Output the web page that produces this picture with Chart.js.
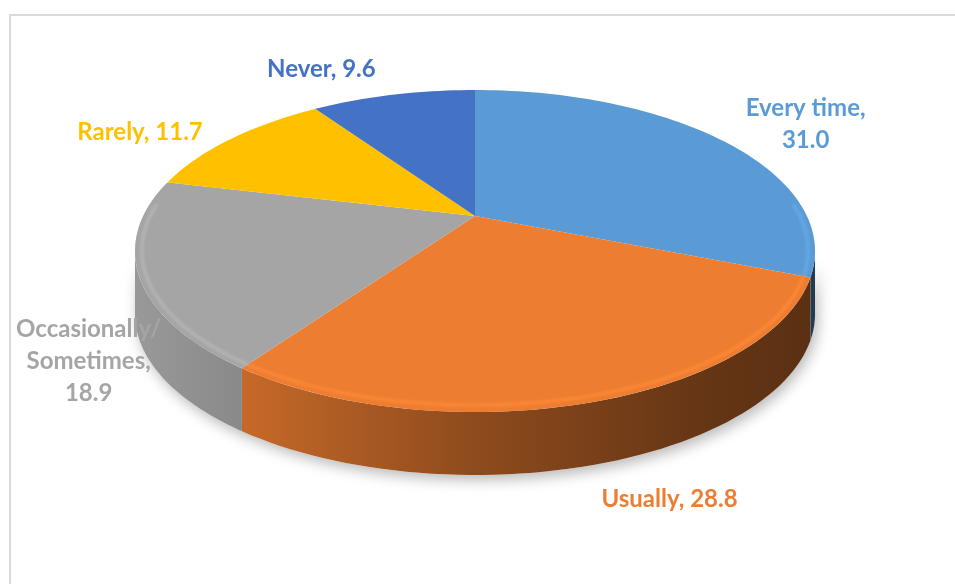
<!DOCTYPE html>
<html>
<head>
<meta charset="utf-8">
<script src="https://cdn.jsdelivr.net/npm/chart.js@4.4.1/dist/chart.umd.min.js"></script>
<style>
  html, body { margin: 0; padding: 0; background: #fff; }
  #wrap { width: 955px; height: 584px; }
</style>
</head>
<body>
<div id="wrap"><canvas id="pieChart"></canvas></div>
<script>
// categories go clockwise from 12 o'clock
const labels = ['Every time', 'Usually', 'Occasionally/\nSometimes', 'Rarely', 'Never'];
const values = [31.0, 28.8, 18.9, 11.7, 9.6];
const colors = ['#5B9BD5', '#ED7D31', '#A5A5A5', '#FFC000', '#4472C4'];
const valueOnNewLine = [true, false, true, false, false];

// label offsets from the projected slice middle (best-fit placement)
const labelOffsets = [[86, -15], [75, 98], [-50, 87], [-91, -7], [-72, -25]];

// perspective view of the disc: apex at (cx, cy), rim is a projected circle
const view = { cx: 475, cy: 216, A: 331.9, B: 153.4, E: -0.2174, depth: 63 };

function rimPoint(t, dy) {
  const w = 1 + view.E * Math.sin(t);
  return [view.cx + view.A * Math.cos(t) / w, view.cy + view.B * Math.sin(t) / w + (dy || 0)];
}

function shade(hex, f) {
  const n = parseInt(hex.slice(1), 16);
  const ch = v => Math.min(255, Math.round(v * f));
  return 'rgb(' + ch((n >> 16) & 255) + ',' + ch((n >> 8) & 255) + ',' + ch(n & 255) + ')';
}

function wallPath(ctx, a, b) {
  const steps = 60;
  ctx.beginPath();
  for (let i = 0; i <= steps; i++) {
    const p = rimPoint(a + (b - a) * i / steps);
    if (i === 0) ctx.moveTo(p[0], p[1]); else ctx.lineTo(p[0], p[1]);
  }
  for (let i = steps; i >= 0; i--) {
    const p = rimPoint(a + (b - a) * i / steps, view.depth);
    ctx.lineTo(p[0], p[1]);
  }
  ctx.closePath();
}

// the slices only depend on direction, so an oversized flat pie clipped to the rim is enough
function drawFaces(chart) {
  const ctx = chart.ctx;
  const arcs = chart.getDatasetMeta(0).data;
  const R = arcs[0].outerRadius, k = 1.32;
  ctx.save();
  ctx.beginPath();
  for (let i = 0; i <= 240; i++) {
    const p = rimPoint(2 * Math.PI * i / 240);
    if (i === 0) ctx.moveTo(p[0], p[1]); else ctx.lineTo(p[0], p[1]);
  }
  ctx.closePath();
  ctx.clip();
  ctx.translate(view.cx, view.cy);
  ctx.scale(k * view.A / R, k * view.B / R);
  ctx.translate(-arcs[0].x, -arcs[0].y);
  arcs.forEach(arc => arc.draw(ctx));
  ctx.restore();
}

const pie3d = {
  id: 'pie3d',
  beforeDraw(chart) {
    const ctx = chart.ctx;
    ctx.save();
    ctx.strokeStyle = '#d9d9d9';
    ctx.lineWidth = 2;
    ctx.strokeRect(10, 15, 1200, 1200);
    ctx.restore();
  },
  beforeDatasetsDraw(chart) {
    const ctx = chart.ctx;
    const arcs = chart.getDatasetMeta(0).data;
    const tL = Math.asin(-view.E), tR = Math.PI - tL;

    // drop shadow under the disc
    ctx.save();
    ctx.shadowColor = 'rgba(0,0,0,0.28)';
    ctx.shadowBlur = 14;
    ctx.shadowOffsetX = 3;
    ctx.shadowOffsetY = 5;
    ctx.fillStyle = '#fff';
    wallPath(ctx, tL, tR);
    ctx.fill();
    ctx.restore();

    // side walls, visible front part only
    arcs.forEach((arc, i) => {
      const a = Math.max(arc.startAngle, tL), b = Math.min(arc.endAngle, tR);
      if (a >= b) return;
      const g = ctx.createLinearGradient(view.cx - 340, 0, view.cx + 340, 0);
      g.addColorStop(0, shade(colors[i], 0.93));
      g.addColorStop(0.18, shade(colors[i], 0.82));
      g.addColorStop(0.5, shade(colors[i], 0.6));
      g.addColorStop(0.83, shade(colors[i], 0.43));
      g.addColorStop(1, shade(colors[i], 0.38));
      ctx.save();
      ctx.fillStyle = g;
      wallPath(ctx, a, b);
      ctx.fill();
      ctx.restore();
    });

    drawFaces(chart);

    // soft bevel highlight just inside the rim
    ctx.save();
    ctx.filter = 'blur(1.5px)';
    ctx.lineWidth = 3;
    arcs.forEach((arc, i) => {
      const a = Math.max(arc.startAngle, tL - 0.3), b = Math.min(arc.endAngle, tR + 0.3);
      if (a >= b) return;
      ctx.strokeStyle = shade(colors[i], 1.1);
      ctx.beginPath();
      for (let s = 0; s <= 60; s++) {
        const p = rimPoint(a + (b - a) * s / 60);
        const dx = p[0] - view.cx, dy = p[1] - view.cy, len = Math.hypot(dx, dy);
        const x = p[0] - 7 * dx / len, y = p[1] - 7 * dy / len;
        if (s === 0) ctx.moveTo(x, y); else ctx.lineTo(x, y);
      }
      ctx.stroke();
    });
    ctx.restore();
    return false;
  },
  afterDraw(chart) {
    const ctx = chart.ctx;
    const arcs = chart.getDatasetMeta(0).data;
    ctx.save();
    ctx.font = 'bold 24px Lato, "Open Sans", sans-serif';
    ctx.textAlign = 'center';
    ctx.textBaseline = 'middle';
    arcs.forEach((arc, i) => {
      const mid = (arc.startAngle + arc.endAngle) / 2;
      const p = rimPoint(mid);
      const lines = labels[i].split('\n');
      const v = values[i].toFixed(1);
      if (valueOnNewLine[i]) { lines[lines.length - 1] += ','; lines.push(v); }
      else lines[lines.length - 1] += ', ' + v;
      const lh = 32;
      const x = p[0] + labelOffsets[i][0];
      const y0 = p[1] + labelOffsets[i][1] - (lines.length - 1) * lh / 2;
      ctx.fillStyle = colors[i];
      lines.forEach((ln, k) => ctx.fillText(ln, x, y0 + k * lh));
    });
    ctx.restore();
  }
};

new Chart(document.getElementById('pieChart'), {
  type: 'pie',
  data: {
    labels: labels,
    datasets: [{
      data: values,
      backgroundColor: colors,
      borderWidth: 0
    }]
  },
  options: {
    responsive: true,
    maintainAspectRatio: false,
    animation: false,
    events: [],
    plugins: {
      legend: { display: false },
      tooltip: { enabled: false }
    }
  },
  plugins: [pie3d]
});
</script>
</body>
</html>
